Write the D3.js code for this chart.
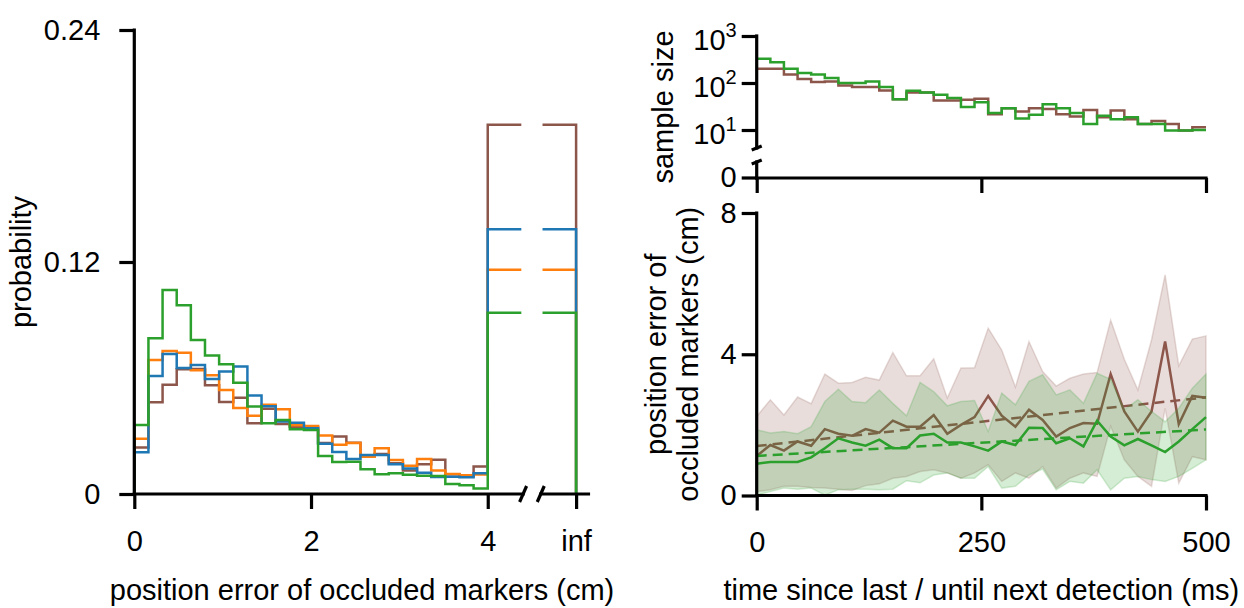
<!DOCTYPE html>
<html>
<head>
<meta charset="utf-8">
<script src="https://cdn.jsdelivr.net/npm/d3@7"></script>
<style>
  body { margin: 0; background: #fff; }
  svg text { font-family: "Liberation Sans", Arial, Helvetica, sans-serif; fill: #000; }
</style>
</head>
<body>
<svg id="chart" width="1244" height="608"></svg>
<script>
// left panel: histogram of position error, bins of 0.16 cm + "inf" bin
const binEdges = [0, 0.16, 0.32, 0.48, 0.64, 0.8, 0.96, 1.12, 1.28, 1.44, 1.6, 1.76, 1.92,
  2.08, 2.24, 2.4, 2.56, 2.72, 2.88, 3.04, 3.2, 3.36, 3.52, 3.68, 3.84];
const probBrown = [0.024, 0.0474, 0.0565, 0.0645, 0.0647, 0.0562, 0.0476, 0.0498, 0.0366, 0.0441,
  0.0362, 0.0348, 0.0347, 0.0264, 0.0298, 0.0265, 0.0197, 0.0207, 0.0159, 0.0121, 0.0154, 0.0177,
  0.0102, 0.0093, 0.0142];
const probOrange = [0.0286, 0.0693, 0.074, 0.0731, 0.064, 0.0614, 0.0538, 0.0445, 0.0405, 0.0462,
  0.0438, 0.0355, 0.0352, 0.0303, 0.0255, 0.0264, 0.0193, 0.0236, 0.0176, 0.0146, 0.0181, 0.0122,
  0.0103, 0.0097, 0.0101];
const probBlue = [0.0216, 0.061, 0.0724, 0.0652, 0.0667, 0.0595, 0.0634, 0.066, 0.0509, 0.0454,
  0.0375, 0.0369, 0.034, 0.026, 0.0217, 0.0181, 0.0202, 0.0202, 0.0154, 0.0132, 0.011, 0.0088,
  0.0089, 0.0086, 0.0107];
const probGreen = [0.0357, 0.0805, 0.1055, 0.0976, 0.0797, 0.0716, 0.0671, 0.0576, 0.0452, 0.0366,
  0.0383, 0.0335, 0.0331, 0.0197, 0.0166, 0.0167, 0.0128, 0.0102, 0.0107, 0.01, 0.0095, 0.0093,
  0.0052, 0.0045, 0.0029];
const infBrown = 0.191, infOrange = 0.116, infBlue = 0.137, infGreen = 0.0938;

// right panels: time since last / until next detection
const timeMs = [0, 15.2, 30.3, 45.5, 60.6, 75.8, 90.9, 106.1, 121.2, 136.4, 151.5, 166.7, 181.8,
  197, 212.1, 227.3, 242.4, 257.6, 272.7, 287.9, 303, 318.2, 333.3, 348.5, 363.6, 378.8, 393.9,
  409.1, 424.2, 439.4, 454.5, 469.7, 484.8, 500];
const countBrown = [202, 202, 151, 122, 105, 108, 89, 82, 82, 69.5, 45, 63, 63, 42.5, 42.5, 44, 46,
  21.7, 29, 24.7, 29, 28, 21.7, 19.3, 26.8, 18.7, 26, 17, 13.4, 15.6, 13.4, 9.7, 11.4];
const countGreen = [327, 276, 200, 164, 151, 128, 100, 100, 108, 82, 45, 68, 63, 56, 48, 31, 39,
  23, 29, 17.5, 21, 35.5, 29, 23, 13.4, 20, 17, 18.7, 13.4, 13.4, 9.7, 9.7, 10];

const errBrown = [1.12, 1.43, 1.27, 1.53, 1.41, 1.88, 1.75, 1.69, 1.88, 1.78, 2.12, 1.95, 1.95, 2.28,
  1.75, 2.0, 2.22, 2.82, 2.26, 1.95, 2.43, 2.14, 1.67, 1.91, 2.05, 2.03, 3.44, 2.38, 1.81, 2.38,
  4.36, 2.02, 2.82, 2.77];
const errBrownHigh = [2.24, 2.71, 2.28, 2.79, 2.6, 3.44, 3.18, 3.2, 3.35, 3.27, 4.05, 3.39, 3.39,
  3.87, 2.76, 3.61, 3.62, 4.74, 4.12, 3.07, 4.36, 3.51, 3.1, 3.32, 3.44, 3.48, 4.97, 3.86, 2.99,
  4.41, 6.25, 3.67, 4.43, 4.52];
const errBrownLow = [0.11, 0.16, 0.26, 0.26, 0.23, 0.21, 0.18, 0.14, 0.28, 0.33, 0.49, 0.54, 0.68,
  0.73, 0.64, 0.49, 0.64, 0.87, 0.4, 0.64, 0.49, 0.82, 0.21, 0.49, 0.64, 0.54, 1.96, 1.01, 0.54,
  0.26, 2.47, 0.35, 1.1, 1.01];
const errGreen = [0.9, 0.95, 0.95, 0.95, 1.08, 1.34, 1.62, 1.5, 1.41, 1.58, 1.34, 1.34, 1.7, 1.75,
  1.5, 1.5, 1.39, 1.27, 1.53, 1.43, 1.92, 1.91, 1.48, 1.62, 1.39, 2.12, 1.67, 1.42, 1.6, 1.42,
  1.23, 1.53, 1.88, 2.22];
const errGreenHigh = [1.86, 1.77, 1.81, 1.75, 1.95, 2.66, 3.01, 2.66, 2.63, 2.99, 2.61, 2.26, 3.2,
  2.94, 2.54, 2.66, 2.69, 1.81, 2.9, 2.57, 3.23, 3.42, 2.85, 2.99, 2.61, 3.46, 3.29, 2.43, 2.71,
  2.38, 2.09, 2.47, 3.04, 3.44];
const errGreenLow = [0.01, 0.11, 0.21, 0.18, 0.21, 0.01, 0.16, 0.18, 0.18, 0.16, 0.18, 0.42, 0.36,
  0.58, 0.64, 0.49, 0.49, 0.82, 0.21, 0.26, 0.58, 0.75, 0.16, 0.4, 0.35, 0.73, 0.16, 0.49, 0.54,
  0.45, 0.4, 0.54, 0.77, 1.01];
const trendBrown = [1.4, 2.78];
const trendGreen = [1.12, 1.87];

const colors = { brown: "#8c564b", orange: "#ff7f0e", blue: "#1f77b4", green: "#2ca02c" };
const fontSize = 29;
const svg = d3.select("#chart");

const styleAxis = g => {
  g.select(".domain").remove();
  g.selectAll(".tick line").attr("stroke", "#000").attr("stroke-width", 3.2);
  g.selectAll(".tick text").attr("font-size", fontSize).attr("font-family", null);
};

const axisLine = (x1, y1, x2, y2) =>
  svg.append("line")
    .attr("x1", x1).attr("y1", y1).attr("x2", x2).attr("y2", y2)
    .attr("stroke", "#000").attr("stroke-width", 3.2).attr("stroke-linecap", "square");

const breakMark = (x, y, dx, dy) =>
  svg.append("line")
    .attr("x1", x - dx).attr("y1", y + dy).attr("x2", x + dx).attr("y2", y - dy)
    .attr("stroke", "#000").attr("stroke-width", 3.2);

// ---------- left panel ----------
const xL = d3.scaleLinear().domain([0, 5]).range([134.3, 576.1]);
const yL = d3.scaleLinear().domain([0, 0.24]).range([494, 30]);

const histLine = d3.line().x(d => xL(d[0])).y(d => yL(d[1])).curve(d3.curveStepAfter);

const drawHist = (probs, infVal, color) => {
  const pts = [[0, 0]].concat(binEdges.map((e, i) => [e, probs[i]]));
  pts.push([4, infVal], [4.38, infVal]);
  svg.append("path").attr("d", histLine(pts))
    .attr("fill", "none").attr("stroke", color).attr("stroke-width", 2.5);
  svg.append("path").attr("d", histLine([[4.62, infVal], [5, infVal], [5, 0]]))
    .attr("fill", "none").attr("stroke", color).attr("stroke-width", 2.5);
};
drawHist(probBrown, infBrown, colors.brown);
drawHist(probOrange, infOrange, colors.orange);
drawHist(probBlue, infBlue, colors.blue);
drawHist(probGreen, infGreen, colors.green);

svg.append("g").attr("transform", `translate(0,${yL(0)})`)
  .call(d3.axisBottom(xL).tickValues([0, 2, 4, 5])
    .tickFormat(d => (d === 5 ? "inf" : d)).tickSize(15).tickPadding(21))
  .call(styleAxis);
svg.append("g").attr("transform", `translate(${xL(0)},0)`)
  .call(d3.axisLeft(yL).tickValues([0, 0.12, 0.24])
    .tickFormat(d => (d === 0 ? "0" : d.toFixed(2))).tickSize(15).tickPadding(19))
  .call(styleAxis);
axisLine(xL(0), yL(0), xL(0), yL(0.24));
axisLine(xL(0), yL(0), xL(4.4), yL(0));
axisLine(xL(4.6), yL(0), xL(5.14), yL(0));
breakMark(xL(4.4), yL(0), 3.5, 8);
breakMark(xL(4.6), yL(0), 3.5, 8);

svg.append("text").attr("transform", "translate(31,262) rotate(-90)")
  .attr("text-anchor", "middle").attr("font-size", fontSize).text("probability");
svg.append("text").attr("x", 362).attr("y", 600)
  .attr("text-anchor", "middle").attr("font-size", fontSize)
  .text("position error of occluded markers (cm)");

// ---------- right top panel: sample size ----------
const xR = d3.scaleLinear().domain([0, 500]).range([756.7, 1206]);
const yTop = d3.scaleLog().domain([10, 1000]).range([130, 36]);
const yTopZero = 178;

const countLine = d3.line().x(d => xR(d[0])).y(d => yTop(d[1])).curve(d3.curveStepAfter);
const drawCounts = (counts, color) => {
  const pts = counts.map((c, i) => [timeMs[i], c]);
  pts.push([500, counts[counts.length - 1]]);
  svg.append("path").attr("d", countLine(pts))
    .attr("fill", "none").attr("stroke", color).attr("stroke-width", 2.5);
};
drawCounts(countBrown, colors.brown);
drawCounts(countGreen, colors.green);

svg.append("g").attr("transform", `translate(0,${yTopZero})`)
  .call(d3.axisBottom(xR).tickValues([0, 250, 500]).tickFormat("").tickSize(15))
  .call(styleAxis);
const gTopY = svg.append("g").attr("transform", `translate(${xR(0)},0)`)
  .call(d3.axisLeft(yTop).tickValues([10, 100, 1000]).tickFormat("").tickSize(15))
  .call(styleAxis);
gTopY.selectAll(".tick").each(function(d) {
  const t = d3.select(this).append("text")
    .attr("x", -20).attr("y", 13).attr("text-anchor", "end").attr("font-size", fontSize);
  t.append("tspan").text("10");
  t.append("tspan").attr("font-size", 20).attr("dy", -13).text(Math.round(Math.log10(d)));
});
const zeroTick = svg.append("g").attr("transform", `translate(${xR(0)},${yTopZero})`);
zeroTick.append("line").attr("x2", -15).attr("stroke", "#000").attr("stroke-width", 3.2);
zeroTick.append("text").attr("x", -20).attr("dy", "0.32em").attr("text-anchor", "end")
  .attr("font-size", fontSize).text("0");
axisLine(xR(0), yTop(1000), xR(0), yTop(10) + 18);
axisLine(xR(0), yTopZero - 16, xR(0), yTopZero);
axisLine(xR(0), yTopZero, xR(500), yTopZero);
breakMark(xR(0), yTop(10) + 18, 5, 2);
breakMark(xR(0), yTopZero - 16, 5, 2);

svg.append("text").attr("transform", `translate(673,${(yTop(1000) + yTopZero) / 2}) rotate(-90)`)
  .attr("text-anchor", "middle").attr("font-size", fontSize).text("sample size");

// ---------- right bottom panel: error vs time ----------
const yB = d3.scaleLinear().domain([0, 8]).range([495.5, 213]);

const band = d3.area().x((d, i) => xR(timeMs[i])).y0(d => yB(d[0])).y1(d => yB(d[1]));
const meanLine = d3.line().x((d, i) => xR(timeMs[i])).y(d => yB(d));
const trendLine = d3.line().x((d, i) => xR(i === 0 ? 0 : 500)).y(d => yB(d));

const drawSeries = (low, high, mean, trend, color) => {
  svg.append("path").attr("d", band(low.map((l, i) => [l, high[i]])))
    .attr("fill", color).attr("fill-opacity", 0.2)
    .attr("stroke", color).attr("stroke-opacity", 0.2).attr("stroke-width", 1.5);
  svg.append("path").attr("d", meanLine(mean))
    .attr("fill", "none").attr("stroke", color).attr("stroke-width", 2.5);
  svg.append("path").attr("d", trendLine(trend))
    .attr("fill", "none").attr("stroke", color).attr("stroke-width", 2.5)
    .attr("stroke-dasharray", "10,6");
};
drawSeries(errBrownLow, errBrownHigh, errBrown, trendBrown, colors.brown);
drawSeries(errGreenLow, errGreenHigh, errGreen, trendGreen, colors.green);

svg.append("g").attr("transform", `translate(0,${yB(0)})`)
  .call(d3.axisBottom(xR).tickValues([0, 250, 500]).tickSize(15).tickPadding(21))
  .call(styleAxis);
svg.append("g").attr("transform", `translate(${xR(0)},0)`)
  .call(d3.axisLeft(yB).tickValues([0, 4, 8]).tickSize(15).tickPadding(5))
  .call(styleAxis);
axisLine(xR(0), yB(0), xR(0), yB(8));
axisLine(xR(0), yB(0), xR(500), yB(0));

svg.append("text").attr("transform", `translate(666,${(yB(0) + yB(8)) / 2}) rotate(-90)`)
  .attr("text-anchor", "middle").attr("font-size", fontSize).text("position error of");
svg.append("text").attr("transform", `translate(698,${(yB(0) + yB(8)) / 2}) rotate(-90)`)
  .attr("text-anchor", "middle").attr("font-size", fontSize).text("occluded markers (cm)");
svg.append("text").attr("x", xR(250)).attr("y", 600)
  .attr("text-anchor", "middle").attr("font-size", fontSize)
  .text("time since last / until next detection (ms)");
</script>
</body>
</html>
